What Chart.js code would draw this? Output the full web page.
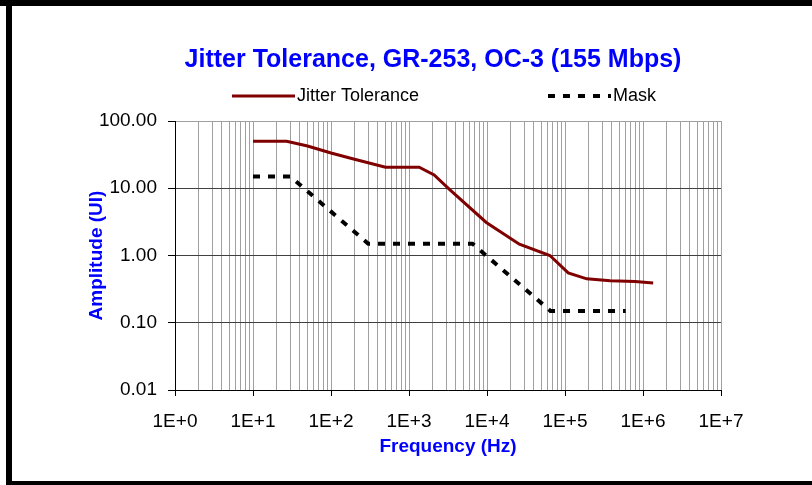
<!DOCTYPE html>
<html>
<head>
<meta charset="utf-8">
<script src="https://cdn.jsdelivr.net/npm/chart.js@4.4.1/dist/chart.umd.min.js"></script>
<style>
  html, body { margin: 0; padding: 0; background: #fff; }
  #wrap { position: relative; width: 812px; height: 485px; overflow: hidden; }
  #chart { position: absolute; left: 0; top: 0; }
  .frame { position: absolute; background: #000; }
</style>
</head>
<body>
<div id="wrap">
  <canvas id="chart" width="812" height="485"></canvas>
  <div class="frame" style="left:0;top:0;width:812px;height:6px"></div>
  <div class="frame" style="left:6px;top:0;width:6px;height:485px"></div>
  <div class="frame" style="left:6px;top:481px;width:806px;height:4px"></div>
</div>
<script>
// values
const jitterFreq = [10, 27, 50, 100, 200, 500, 1350, 2100, 3300, 9800, 26000, 64000, 110000, 190000, 380000, 790000, 1350000];
const jitterAmp = [50, 50, 42.5, 33.5, 27, 20.6, 20.6, 15.8, 9.6, 3.1, 1.47, 1.0, 0.55, 0.45, 0.42, 0.41, 0.39];
const maskFreq = [10, 30, 300, 6500, 65000, 600000];
const maskAmp = [15, 15, 1.5, 1.5, 0.15, 0.15];

const xTickLabels = ['1E+0', '1E+1', '1E+2', '1E+3', '1E+4', '1E+5', '1E+6', '1E+7'];
const yTickLabels = ['0.01', '0.10', '1.00', '10.00', '100.00'];

const xDecades = xTickLabels.map(Number);
const yDecades = yTickLabels.map(Number);

// one vertical grid line for every 1..9 x 10^n
const xGridValues = [];
xDecades.forEach((d, i) => {
    if (i === xDecades.length - 1) { xGridValues.push(d); return; }
    for (let m = 1; m <= 9; m++) xGridValues.push(d * m);
});

const FONT = "'Liberation Sans', Arial, sans-serif";
Chart.defaults.font.family = FONT;
Chart.defaults.color = '#000';

// Excel style legend: sample line + label, spread over the plot width
const legendOffsets = [57, 373];
const excelLegend = {
    id: 'excelLegend',
    afterDraw(chart) {
        const { ctx, chartArea } = chart;
        const y = chartArea.top - 25;
        chart.data.datasets.forEach((ds, i) => {
            const x0 = chartArea.left + legendOffsets[i];
            ctx.save();
            ctx.strokeStyle = ds.borderColor;
            ctx.lineWidth = ds.borderWidth;
            ctx.setLineDash(ds.borderDash || []);
            ctx.beginPath();
            ctx.moveTo(x0, y);
            ctx.lineTo(x0 + 63, y);
            ctx.stroke();
            ctx.setLineDash([]);
            ctx.fillStyle = '#000';
            ctx.font = '18px ' + FONT;
            ctx.textBaseline = 'middle';
            ctx.fillText(ds.label, x0 + 65, y);
            ctx.restore();
        });
    }
};

// the title sits a little left of the plot centre
const titleShift = {
    id: 'titleShift',
    afterLayout(chart) {
        if (chart.titleBlock) {
            chart.titleBlock.left = chart.chartArea.left - 30;
            chart.titleBlock.right = chart.chartArea.right;
        }
    }
};

new Chart(document.getElementById('chart'), {
    type: 'line',
    data: {
        datasets: [{
            label: 'Jitter Tolerance',
            data: jitterFreq.map((f, i) => ({ x: f, y: jitterAmp[i] })),
            borderColor: '#800000',
            borderWidth: 3,
            pointRadius: 0,
            tension: 0,
            fill: false,
        }, {
            label: 'Mask',
            data: maskFreq.map((f, i) => ({ x: f, y: maskAmp[i] })),
            borderColor: '#000000',
            borderWidth: 4,
            borderDash: [7, 8],
            pointRadius: 0,
            tension: 0,
            fill: false,
        }],
    },
    options: {
        responsive: false,
        animation: false,
        layout: { padding: { left: 0, right: 91, top: 0, bottom: 0 } },
        plugins: {
            legend: { display: false },
            tooltip: { enabled: false },
            title: {
                display: true,
                text: 'Jitter Tolerance, GR-253, OC-3 (155 Mbps)',
                color: '#0000ff',
                font: { size: 25, weight: 'bold' },
                padding: { top: 45, bottom: 46 },
            },
        },
        scales: {
            x: {
                type: 'logarithmic',
                min: 1,
                max: 1e7,
                afterBuildTicks: s => { s.ticks = xGridValues.map(v => ({ value: v })); },
                afterFit: s => { s.height = 95; },
                ticks: {
                    autoSkip: false,
                    maxRotation: 0,
                    padding: 14,
                    color: '#000',
                    font: { size: 19 },
                    callback: v => {
                        const i = xDecades.indexOf(v);
                        return i >= 0 ? xTickLabels[i] : '';
                    },
                },
                grid: {
                    color: '#a0a0a0',
                    tickLength: 6,
                    tickColor: c => xDecades.includes(c.tick.value) ? '#000' : 'rgba(0,0,0,0)',
                },
                border: { color: '#000' },
                title: {
                    display: true,
                    text: 'Frequency (Hz)',
                    color: '#0000ff',
                    font: { size: 19, weight: 'bold' },
                    padding: { top: 0, bottom: 27 },
                },
            },
            y: {
                type: 'logarithmic',
                min: 0.01,
                max: 100,
                afterBuildTicks: s => { s.ticks = yDecades.map(v => ({ value: v })); },
                afterFit: s => { s.width = 175; },
                ticks: {
                    padding: 11,
                    color: '#000',
                    font: { size: 19 },
                    callback: v => yTickLabels[yDecades.indexOf(v)],
                },
                grid: {
                    color: c => c.tick && c.tick.value === 100 ? '#a0a0a0' : '#404040',
                    tickLength: 7,
                    tickColor: '#000',
                },
                border: { color: '#000' },
                title: {
                    display: true,
                    text: 'Amplitude (UI)',
                    color: '#0000ff',
                    font: { size: 19, weight: 'bold' },
                    padding: { top: 85, bottom: 0 },
                },
            },
        },
    },
    plugins: [excelLegend, titleShift],
});
</script>
</body>
</html>
